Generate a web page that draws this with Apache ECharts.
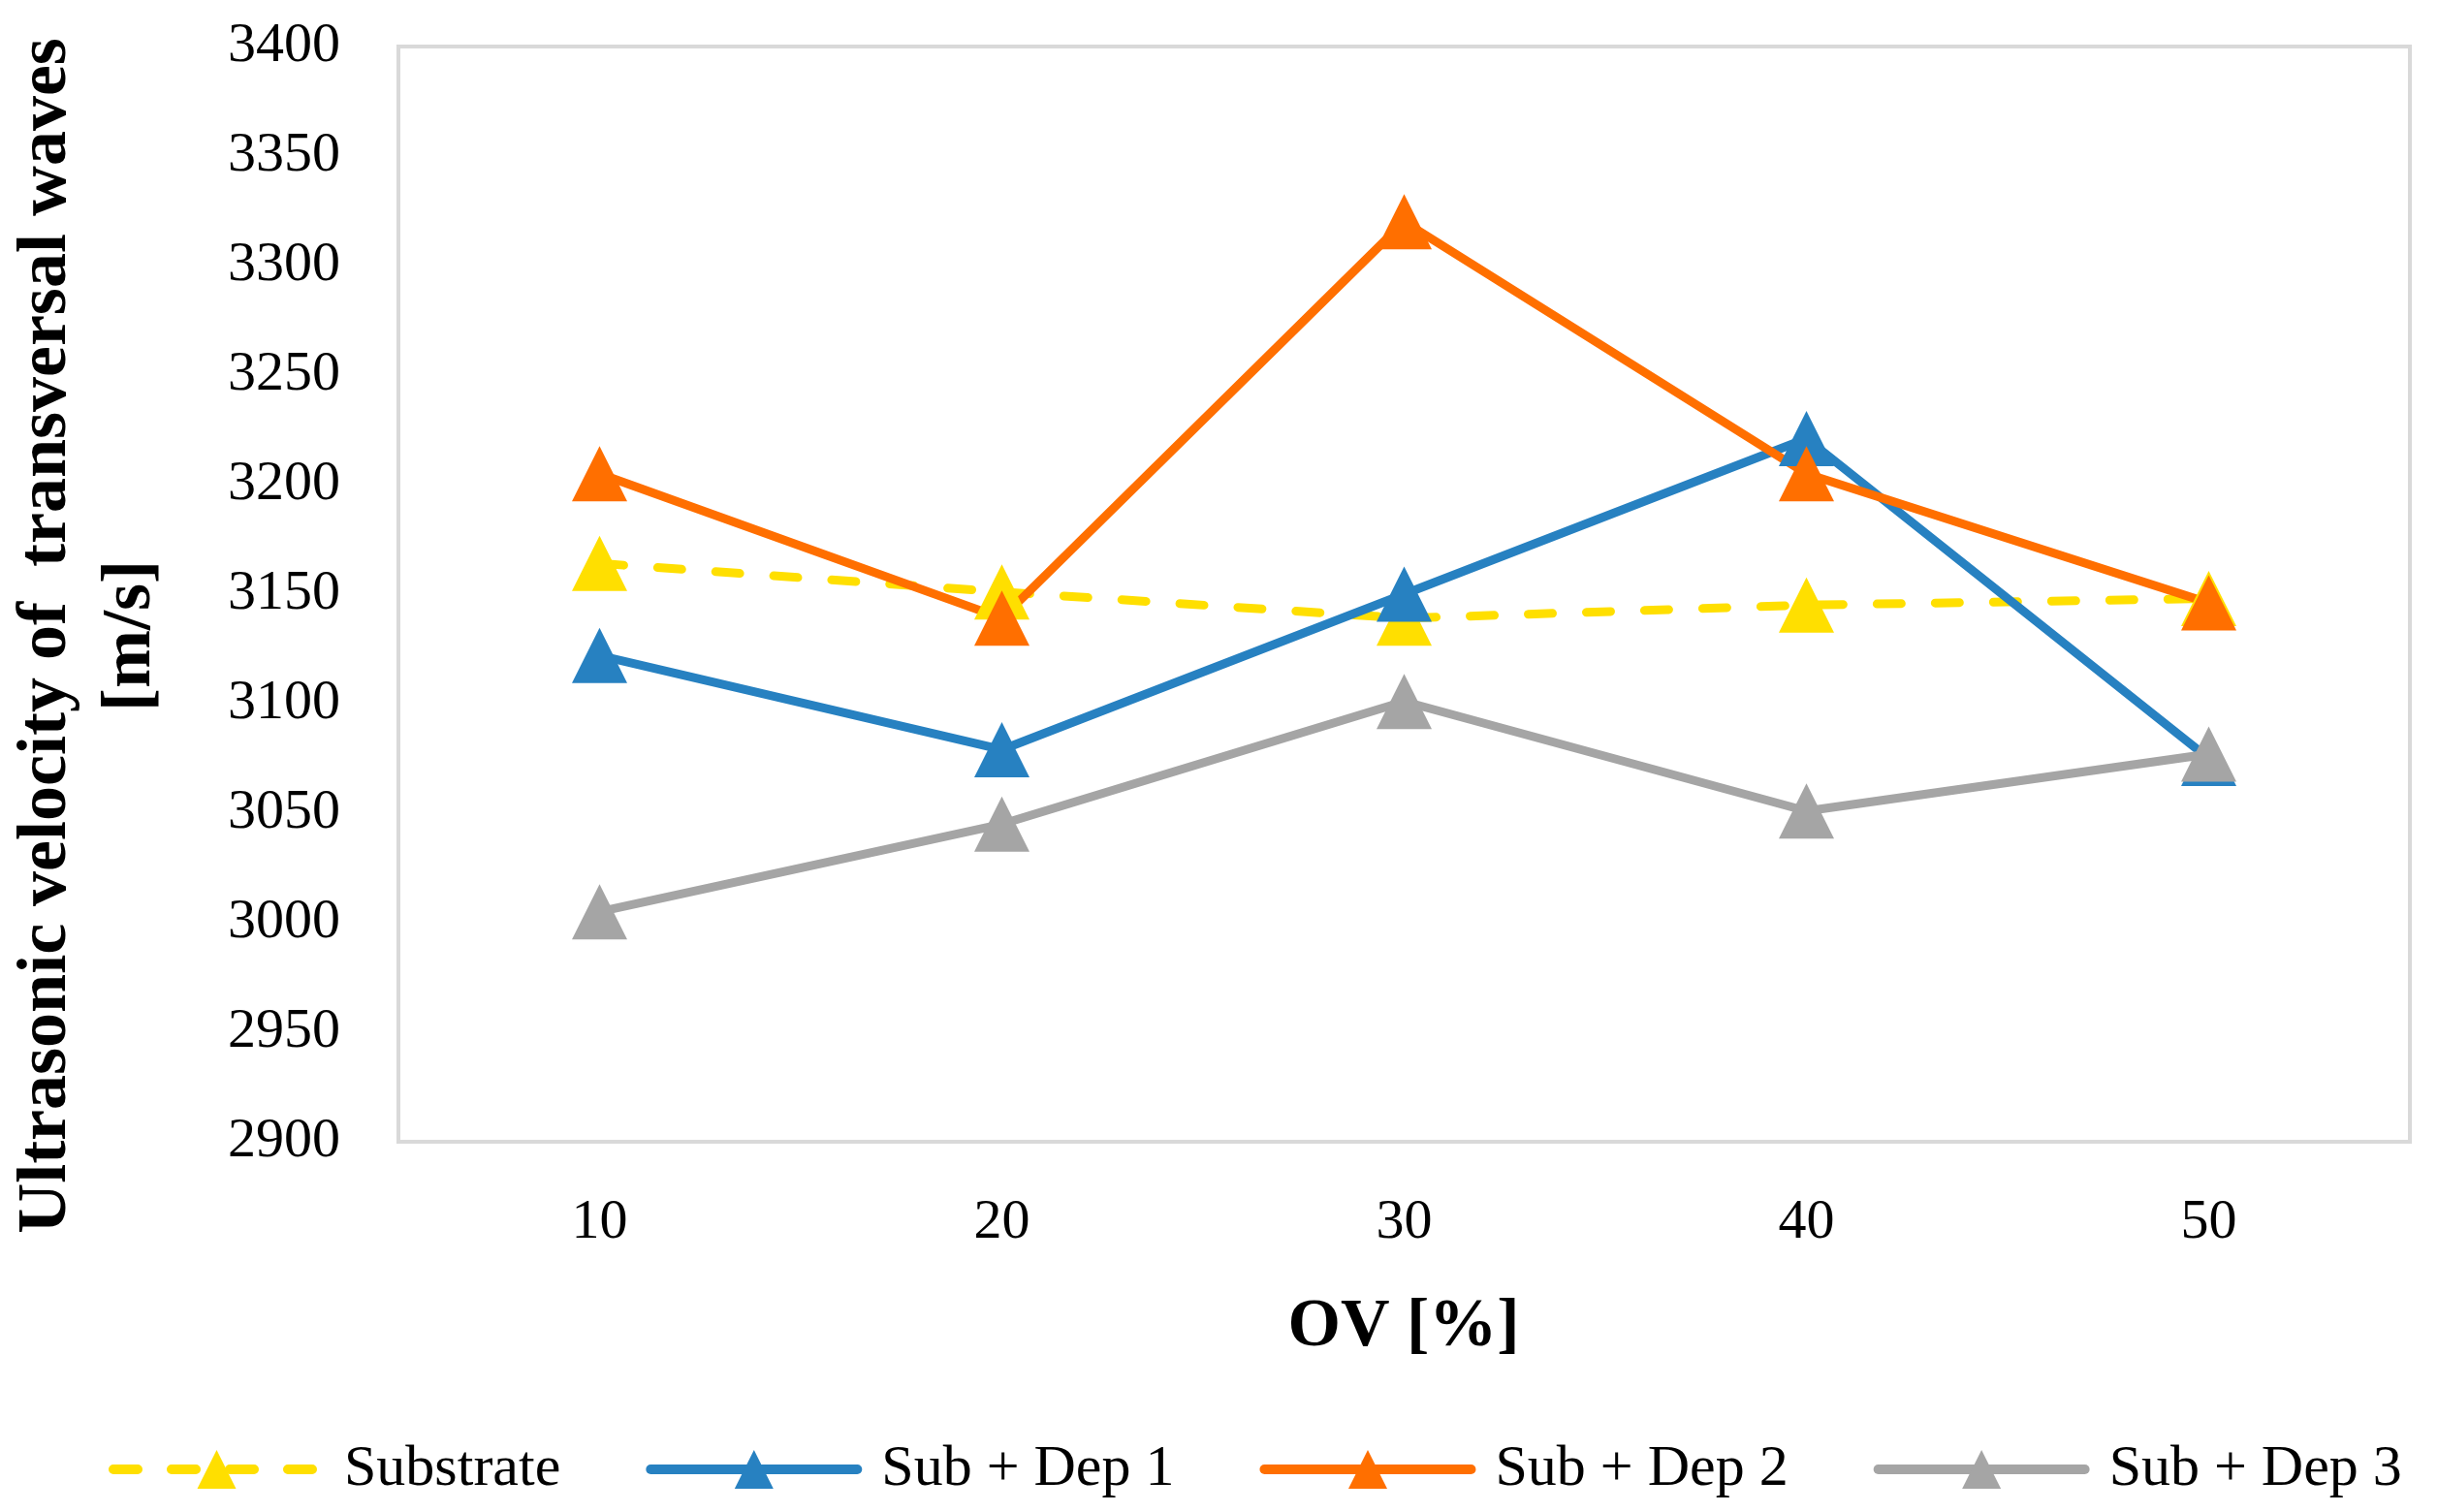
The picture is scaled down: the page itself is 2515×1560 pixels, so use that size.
<!DOCTYPE html>
<html>
<head>
<meta charset="utf-8">
<script src="https://cdn.jsdelivr.net/npm/echarts@6/dist/echarts.min.js"></script>
<style>
html,body{margin:0;padding:0;background:#fff;}
#chart{width:2515px;height:1560px;}
</style>
</head>
<body>
<div id="chart"></div>
<script>
const categories = ['10', '20', '30', '40', '50'];
const substrate = [3164, 3151, 3139, 3145, 3148];
const subDep1 = [3122, 3079, 3150, 3221, 3075];
const subDep2 = [3205, 3139, 3320, 3205, 3146];
const subDep3 = [3005, 3045, 3101, 3051, 3077];
const seriesNames = ['Substrate', 'Sub + Dep 1', 'Sub + Dep 2', 'Sub + Dep 3'];
const yTicks = {min: 2900, max: 3400, interval: 50};
const xTitle = 'OV [%]';
const yTitle1 = 'Ultrasonic velocity of  transversal waves';
const yTitle2 = '[m/s]';

const colors = ['#FFDF00', '#2781C1', '#FF6F00', '#A5A5A5'];
const font = '"Liberation Serif", "Times New Roman", serif';

function mk(name, data, color, dashed) {
  return {
    name: name,
    type: 'line',
    data: data,
    symbol: 'triangle',
    symbolSize: [57, 57],
    showSymbol: true,
    itemStyle: {color: color},
    lineStyle: {color: color, width: 9, type: dashed ? [25, 35] : 'solid', cap: dashed ? 'round' : 'butt', join: 'round'},
    emphasis: {disabled: true},
    animation: false
  };
}

const chart = echarts.init(document.getElementById('chart'));
chart.setOption({
  backgroundColor: '#ffffff',
  animation: false,
  grid: {
    left: 411, top: 48, width: 2075, height: 1130,
    show: true, borderColor: '#D9D9D9', borderWidth: 4, backgroundColor: 'transparent'
  },
  xAxis: {
    type: 'category',
    data: categories,
    boundaryGap: true,
    axisLine: {show: false},
    axisTick: {show: false},
    splitLine: {show: false},
    axisLabel: {fontFamily: font, fontSize: 58, color: '#000', margin: 55}
  },
  yAxis: {
    type: 'value',
    min: yTicks.min, max: yTicks.max, interval: yTicks.interval,
    axisLine: {show: false},
    axisTick: {show: false},
    splitLine: {show: false},
    axisLabel: {fontFamily: font, fontSize: 58, color: '#000', margin: 60, formatter: function (v) { return String(v); }}
  },
  legend: {
    data: seriesNames,
    left: 107,
    top: 1481,
    width: 2400,
    itemWidth: 213,
    itemHeight: 50,
    itemGap: 88,
    lineStyle: {width: 10, cap: 'round'},
    textStyle: {fontFamily: font, fontSize: 60, color: '#000', padding: [0, 0, 0, 20]}
  },
  graphic: [
    {type: 'text', x: 48, y: 656, rotation: Math.PI / 2,
      style: {text: yTitle1, font: 'bold 72px ' + font, fill: '#000', align: 'center', verticalAlign: 'middle'}},
    {type: 'text', x: 135, y: 656, rotation: Math.PI / 2,
      style: {text: yTitle2, font: 'bold 72px ' + font, fill: '#000', align: 'center', verticalAlign: 'middle'}},
    {type: 'text', x: 1448, y: 1370,
      style: {text: xTitle, font: 'bold 70px ' + font, fill: '#000', align: 'center', verticalAlign: 'middle'}}
  ],
  series: [
    mk(seriesNames[0], substrate, colors[0], true),
    mk(seriesNames[1], subDep1, colors[1], false),
    mk(seriesNames[2], subDep2, colors[2], false),
    mk(seriesNames[3], subDep3, colors[3], false)
  ]
});
</script>
</body>
</html>
